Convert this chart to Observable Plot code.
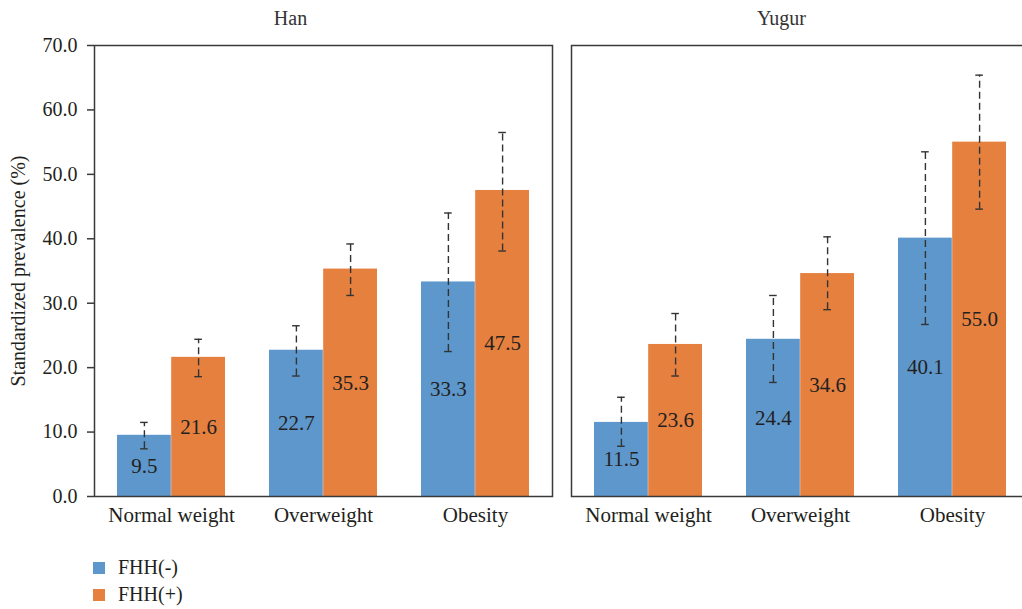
<!DOCTYPE html>
<html>
<head>
<meta charset="utf-8">
<script src="https://cdn.jsdelivr.net/npm/d3@7"></script>
<script src="https://cdn.jsdelivr.net/npm/@observablehq/plot@0.6"></script>
<style>
  html, body { margin: 0; padding: 0; background: #fff; overflow: hidden; }
  #chart { width: 1040px; }
  #chart svg { display: block; max-width: none !important; }
  .legend { font-family: 'Liberation Serif', serif; font-size: 20px; color: #231f20; padding-left: 93px; margin-top: 14px; }
  .legend .row { height: 27px; display: flex; align-items: center; }
  .legend .sw { width: 12px; height: 12px; margin-right: 13px; }
</style>
</head>
<body>
<div id="chart"></div>
<script>
const categories = ["Normal weight", "Overweight", "Obesity"];
const ethnicities = ["Han", "Yugur"];
const groups = ["FHH(-)", "FHH(+)"];
const colors = ["#5E97CB", "#E6803F"];
const yTicks = [0, 10, 20, 30, 40, 50, 60, 70];

// Han
const hanNeg = [9.5, 22.7, 33.3];
const hanNegLo = [7.4, 18.7, 22.5];
const hanNegHi = [11.5, 26.5, 44.0];
const hanPos = [21.6, 35.3, 47.5];
const hanPosLo = [18.6, 31.2, 38.1];
const hanPosHi = [24.4, 39.2, 56.5];
// Yugur
const yugNeg = [11.5, 24.4, 40.1];
const yugNegLo = [7.8, 17.7, 26.7];
const yugNegHi = [15.4, 31.2, 53.5];
const yugPos = [23.6, 34.6, 55.0];
const yugPosLo = [18.7, 29.0, 44.6];
const yugPosHi = [28.4, 40.3, 65.4];

function rows(eth, grp, vals, lo, hi) {
  return categories.map((c, i) => ({eth, grp, cat: c, val: vals[i], lo: lo[i], hi: hi[i]}));
}
const negRows = [...rows("Han", groups[0], hanNeg, hanNegLo, hanNegHi), ...rows("Yugur", groups[0], yugNeg, yugNegLo, yugNegHi)];
const posRows = [...rows("Han", groups[1], hanPos, hanPosLo, hanPosHi), ...rows("Yugur", groups[1], yugPos, yugPosLo, yugPosHi)];

// layout
const W = 1032, H = 540, mL = 94, mR = 3, mT = 45, mB = 44;
const fxPadInner = 0.04;
const xPadInner = 0.29, xPadOuter = 0.145;
const fxStep = (W - mL - mR) / (2 - fxPadInner);
const facetW = fxStep * (1 - fxPadInner);
const xStep = facetW / (3 - xPadInner + 2 * xPadOuter);
const bw = xStep * (1 - xPadInner);
const half = bw / 2, q = bw / 4, cap = 4;
const ink = "#231f20", lineCol = "#3a3a3a";

const chart = Plot.plot({
  width: W, height: H,
  marginLeft: mL, marginRight: mR, marginTop: mT, marginBottom: mB,
  style: {fontFamily: "'Liberation Serif', serif", fontSize: "20px", color: ink, background: "#fff", maxWidth: "none"},
  fx: {domain: ethnicities, paddingInner: fxPadInner, paddingOuter: 0, axis: null},
  x: {domain: categories, paddingInner: xPadInner, paddingOuter: xPadOuter, axis: null},
  y: {domain: [0, 70], axis: null},
  color: {domain: groups, range: colors},
  marks: [
    Plot.barY(negRows, {fx: "eth", x: "cat", y: "val", fill: "grp", insetRight: half}),
    Plot.barY(posRows, {fx: "eth", x: "cat", y: "val", fill: "grp", insetLeft: half}),
    Plot.frame({stroke: lineCol, strokeWidth: 1.5}),
    Plot.axisY({ticks: yTicks, tickFormat: d => d.toFixed(1), tickSize: 7, tickPadding: 10, fontSize: 20,
      stroke: lineCol, strokeWidth: 1.5,
      label: "Standardized prevalence (%)", labelAnchor: "center", labelArrow: "none", labelOffset: 84}),
    Plot.axisX({tickSize: 0, tickPadding: 11, fontSize: 21, label: null}),
    // error bars
    Plot.ruleX(negRows, {fx: "eth", x: "cat", y1: "lo", y2: "hi", dx: -q, stroke: "#333", strokeWidth: 1.4, strokeDasharray: "7,4"}),
    Plot.ruleX(posRows, {fx: "eth", x: "cat", y1: "lo", y2: "hi", dx: q, stroke: "#333", strokeWidth: 1.4, strokeDasharray: "7,4"}),
    Plot.tickY(negRows, {fx: "eth", x: "cat", y: "hi", insetLeft: q - cap, insetRight: 3 * q - cap, stroke: "#333", strokeWidth: 1.4}),
    Plot.tickY(negRows, {fx: "eth", x: "cat", y: "lo", insetLeft: q - cap, insetRight: 3 * q - cap, stroke: "#333", strokeWidth: 1.4}),
    Plot.tickY(posRows, {fx: "eth", x: "cat", y: "hi", insetLeft: 3 * q - cap, insetRight: q - cap, stroke: "#333", strokeWidth: 1.4}),
    Plot.tickY(posRows, {fx: "eth", x: "cat", y: "lo", insetLeft: 3 * q - cap, insetRight: q - cap, stroke: "#333", strokeWidth: 1.4}),
    // value labels
    Plot.text(negRows, {fx: "eth", x: "cat", y: d => d.val / 2, text: d => d.val.toFixed(1), dx: -q, fontSize: 21, fill: ink}),
    Plot.text(posRows, {fx: "eth", x: "cat", y: d => d.val / 2, text: d => d.val.toFixed(1), dx: q, fontSize: 21, fill: ink}),
    // facet titles
    Plot.text([ethnicities[0]], {fx: d => d, frameAnchor: "top", lineAnchor: "middle", dy: -27, dx: -33, text: d => d, fontSize: 20, fill: "#333"}),
    Plot.text([ethnicities[1]], {fx: d => d, frameAnchor: "top", lineAnchor: "middle", dy: -27, dx: -19, text: d => d, fontSize: 20, fill: "#333"})
  ]
});
document.getElementById("chart").appendChild(chart);

const legend = document.createElement("div");
legend.className = "legend";
groups.forEach((g, i) => {
  const row = document.createElement("div");
  row.className = "row";
  const sw = document.createElement("span");
  sw.className = "sw";
  sw.style.background = colors[i];
  const t = document.createElement("span");
  t.textContent = g;
  row.appendChild(sw); row.appendChild(t);
  legend.appendChild(row);
});
document.body.appendChild(legend);
</script>
</body>
</html>
